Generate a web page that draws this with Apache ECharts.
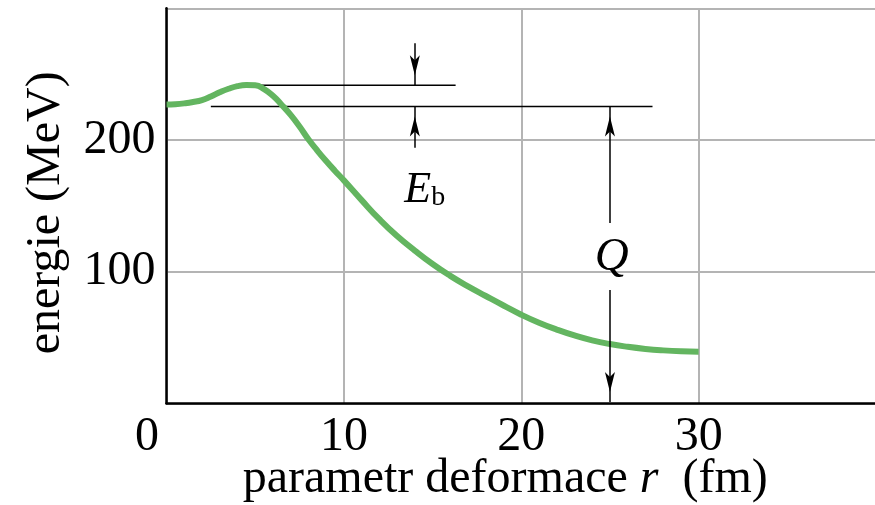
<!DOCTYPE html>
<html><head><meta charset="utf-8">
<script src="https://cdn.jsdelivr.net/npm/echarts@6/dist/echarts.min.js"></script>
<style>html,body{margin:0;padding:0;background:#fff}#c{width:875px;height:505px}</style>
</head><body><div id="c"></div>
<script>
// deformation parameter r (fm) and energy (MeV)
const rValues = [0,0.5,1,1.5,2,2.5,3,3.5,4,4.5,5,5.5,6,6.5,7,7.5,8,8.5,9,9.5,10,11,12,13,14,15,16,17,18,19,20,21,22,23,24,25,26,27,28,29,30];
const energyValues = [227,227.2,227.8,228.8,230.3,233,236.2,238.9,240.9,241.7,241.5,238.6,233.5,226.6,219,210.2,200.5,192,184,176.5,169.3,154.3,139.8,127,116,105.8,96.8,88.8,81.5,74.3,67.3,61.2,56,51.5,47.8,45,42.9,41.3,40.2,39.5,39.2];
const xTickValues = [0,10,20,30,40];
const yTickValues = [0,100,200,300];
// annotation geometry (data units)
const barrierLineX = [5.3, 16.3];
const barrierEnergy = 241.5;
const groundLineX = [2.5, 27.4];
const groundEnergy = 225.5;
const ebArrowX = 14;
const ebArrowDownY = [273.5, 241.5];
const ebArrowUpY = [194, 225.5];
const qArrowX = 25;
const qArrowUpY = [137, 225.5];
const qArrowDownY = [86, 1];
const ebLabelPos = [14.56, 162];
const qLabelPos = [25.1, 111];

const serif = 'Liberation Serif';
const chart = echarts.init(document.getElementById('c'), null, {renderer: 'canvas'});
const curve = rValues.map((r, i) => [r, energyValues[i]]);
const arrowSize = [7.5, 20];
const shafts = [
  [ebArrowX, ebArrowDownY], [ebArrowX, ebArrowUpY], [qArrowX, qArrowUpY], [qArrowX, qArrowDownY]
];
const heads = shafts.map(([x, ys]) => {
  const up = ys[1] > ys[0];
  return {value: [x, ys[1]], symbolRotate: up ? 0 : 180, symbolOffset: [0, up ? arrowSize[1]/2 : -arrowSize[1]/2]};
});

chart.setOption({
  animation: false,
  backgroundColor: '#fff',
  grid: {left: 166.5, right: -1, top: 8.3, bottom: 101.7, containLabel: false, outerBoundsMode: 'none'},
  xAxis: {
    type: 'value', min: xTickValues[0], max: xTickValues[xTickValues.length-1], interval: 10,
    name: 'parametr deformace {i|r}  (fm)', nameLocation: 'middle', nameGap: 52, nameMoveOverlap: false,
    nameTextStyle: {fontFamily: serif, fontSize: 48, color: '#000', padding: [0, 32, 0, 0],
      rich: {i: {fontFamily: serif, fontSize: 48, fontStyle: 'italic', color: '#000'}}},
    axisLine: {show: true, onZero: false, lineStyle: {color: '#000', width: 2.5}},
    axisTick: {show: false},
    axisLabel: {fontFamily: serif, fontSize: 48, color: '#000', margin: 10, showMaxLabel: true,
      formatter: v => v === 40 ? '' : (v === 0 ? '{z|0}' : String(v)),
      rich: {z: {fontFamily: serif, fontSize: 48, color: '#000', padding: [0, 39, 0, 0]}}},
    splitLine: {show: true, lineStyle: {color: '#b4b4b4', width: 2}}
  },
  yAxis: {
    type: 'value', min: yTickValues[0], max: yTickValues[yTickValues.length-1], interval: 100,
    name: 'energie (MeV)', nameLocation: 'middle', nameGap: 96, nameMoveOverlap: false,
    nameTextStyle: {fontFamily: serif, fontSize: 48, color: '#000', padding: [0, 14, 0, 0]},
    axisLine: {show: true, lineStyle: {color: '#000', width: 2.5}},
    axisTick: {show: false},
    axisLabel: {fontFamily: serif, fontSize: 48, color: '#000', margin: 11,
      formatter: v => (v === 100 || v === 200) ? String(v) : ''},
    splitLine: {show: true, lineStyle: {color: '#b4b4b4', width: 2}}
  },
  series: [
    {type: 'line', data: [[barrierLineX[0], barrierEnergy], [barrierLineX[1], barrierEnergy]],
      symbol: 'none', lineStyle: {color: '#000', width: 1.5}, z: 2, silent: true},
    {type: 'line', data: [[groundLineX[0], groundEnergy], [groundLineX[1], groundEnergy]],
      symbol: 'none', lineStyle: {color: '#000', width: 1.5}, z: 2, silent: true,
      markLine: {
        silent: true, symbol: ['none', 'none'],
        label: {show: false}, lineStyle: {color: '#000', width: 1.5, type: 'solid'},
        emphasis: {disabled: true},
        data: shafts.map(([x, ys]) => [{coord: [x, ys[0]]}, {coord: [x, ys[1]]}])
      },
      markPoint: {
        silent: true, symbol: 'circle', symbolSize: 0,
        itemStyle: {color: 'rgba(0,0,0,0)'},
        data: [
          {coord: ebLabelPos, label: {show: true, position: 'inside', formatter: '{e|E}{b|b}',
            rich: {e: {fontFamily: serif, fontSize: 44, fontStyle: 'italic', color: '#000', verticalAlign: 'bottom'},
                   b: {fontFamily: serif, fontSize: 28, color: '#000', verticalAlign: 'bottom'}}}},
          {coord: qLabelPos, label: {show: true, position: 'inside', formatter: '{q|Q}',
            rich: {q: {fontFamily: serif, fontSize: 47, fontStyle: 'italic', color: '#000'}}}}
        ]
      }
    },
    {type: 'scatter', data: heads, symbol: 'arrow', symbolSize: arrowSize,
      itemStyle: {color: '#000', opacity: 1}, z: 4, silent: true},
    {type: 'line', data: curve, smooth: true, symbol: 'none',
      lineStyle: {color: '#63b560', width: 6, cap: 'butt'}, z: 3, silent: true}
  ]
});
</script></body></html>
